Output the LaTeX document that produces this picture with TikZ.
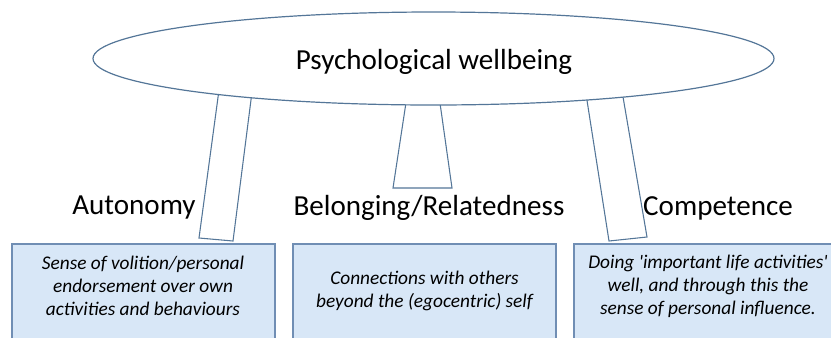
\documentclass[tikz,border=0pt]{standalone}
\usepackage{fontspec}
\setmainfont{Carlito}
\usepackage{tikz}
\definecolor{lineblue}{RGB}{84,118,152}
\definecolor{boxline}{RGB}{112,142,180}
\definecolor{boxfill}{RGB}{216,231,247}

\tikzset{
  legshape/.style={draw=lineblue, line width=0.8pt, fill=white},
  notebox/.style={draw=boxline, line width=0.8pt, fill=boxfill},
  bigtext/.style={inner sep=0.75pt, font=\fontsize{21.8}{26}\selectfont},
  boxtext/.style={inner sep=0.75pt, align=center, font=\fontsize{14.5}{17.3}\selectfont\itshape}
}

\begin{document}
\begin{tikzpicture}[x=0.75pt,y=0.75pt,yscale=-1,xscale=1]
\useasboundingbox (0,0) rectangle (831,337);
\clip (0,0) rectangle (831,337);

%Shape: Rectangle [left box]
\draw [notebox] (12,244) rectangle (275,360);
%Shape: Rectangle [middle box]
\draw [notebox] (293,244) rectangle (556,360);
%Shape: Rectangle [right box]
\draw [notebox] (574,244) rectangle (860,360);

%Shape: Legs
\draw [legshape] (219,90) -- (252,92) -- (233,241) -- (199,238) -- cycle ;
\draw [legshape] (407,96) -- (439,96) -- (452,188) -- (393,188) -- cycle ;
\draw [legshape] (586,94) -- (622,91) -- (647,237) -- (609,241) -- cycle ;

%Shape: Ellipse
\draw [lineblue, line width=0.9pt, fill=white] (433.5,58.5) ellipse [x radius=340.5, y radius=46.5];

% Text Node
\node [bigtext] (wellbeing) at (434,62) {Psychological wellbeing};
% Text Node
\node [bigtext] (autonomy) at (134,208) {Autonomy};
% Text Node
\node [bigtext] (belonging) at (429,208) {Belonging/Relatedness};
% Text Node
\node [bigtext] (competence) at (718,208) {Competence};

% Text Node
\node [boxtext] (autonote) at (143,286) {Sense of volition/personal\\endorsement over own\\activities and behaviours};
% Text Node
\node [boxtext] (belongnote) at (424.5,291) {Connections with others\\beyond the (egocentric) self};
% Text Node
\node [boxtext] (compnote) at (708,286) {Doing \textquotesingle important life activities\textquotesingle\\well, and through this the\\sense of personal influence.};

\end{tikzpicture}
\end{document}
